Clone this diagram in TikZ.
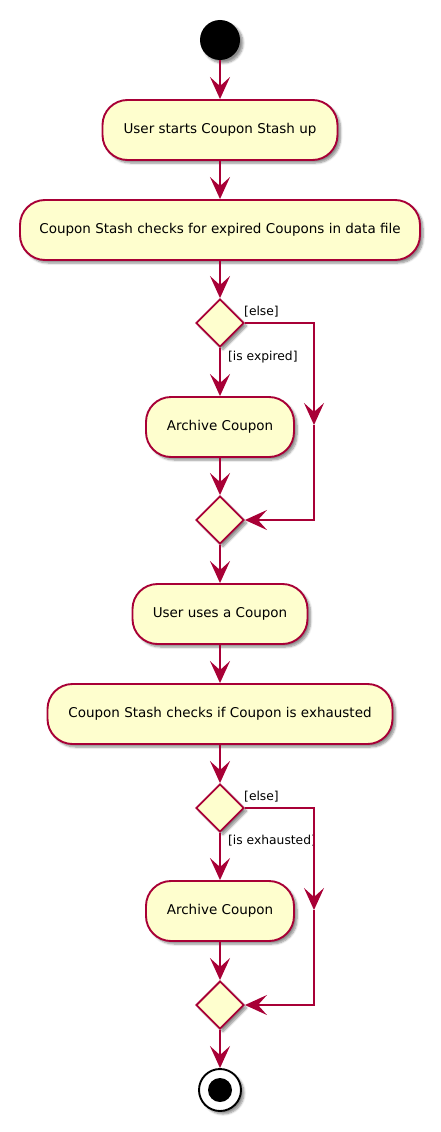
\documentclass[tikz,border=0pt]{standalone}
\usepackage{fontspec}
\setmainfont{DejaVu Sans}
\usetikzlibrary{arrows.meta,shapes.geometric,shadows.blur}
\definecolor{umlred}{HTML}{A80036}
\definecolor{umlfill}{HTML}{FEFECE}
\begin{document}
\begin{tikzpicture}[x=1pt,y=-1pt,
    shade/.style={blur shadow={shadow xshift=3pt,shadow yshift=-3pt,shadow blur steps=6,shadow opacity=45}},
    action/.style={rounded corners=25pt,draw=umlred,fill=umlfill,line width=1.9pt,minimum height=60pt,inner sep=0pt,font=\fontsize{13.5}{16}\selectfont,shade},
    decision/.style={diamond,aspect=1,draw=umlred,fill=umlfill,line width=1.9pt,minimum width=48pt,minimum height=48pt,inner sep=0pt,shade},
    flow/.style={draw=umlred,line width=1.9pt,-{Stealth[length=22pt,width=20pt,inset=9pt]}},
    guard/.style={font=\fontsize{12.3}{14}\selectfont,inner sep=0pt}]
      \useasboundingbox (0,0) rectangle (440,1132);%

      \node[circle,fill=black,inner sep=0pt,minimum size=40pt,shade] (S) at (220,40) {};%

      \node[action,minimum width=235pt] (A1) at (220,130) {User starts Coupon Stash up};%
      \node[action,minimum width=400pt] (A2) at (220,230) {Coupon Stash checks for expired Coupons in data file};%
      \node[decision] (D1) at (220,323) {};%
      \node[action,minimum width=148pt] (A3) at (220,427) {Archive Coupon};%
      \node[decision] (D2) at (220,520) {};%

      \node[action,minimum width=175pt] (A4) at (220,614) {User uses a Coupon};%
      \node[action,minimum width=345pt] (A5) at (220,714) {Coupon Stash checks if Coupon is exhausted};%
      \node[decision] (D3) at (220,808) {};%
      \node[action,minimum width=148pt] (A6) at (220,911) {Archive Coupon};%
      \node[decision] (D4) at (220,1005) {};%

      \node[circle,draw=black,fill=white,line width=1.9pt,inner sep=0pt,minimum size=42pt,shade] (E) at (220,1090) {};%
      \node[circle,fill=black,inner sep=0pt,minimum size=24pt] (EI) at (220,1090) {};%

      \coordinate (C1) at (314,323);%
      \coordinate (M1) at (314,425);%
      \coordinate (C2) at (314,520);%
      \coordinate (C3) at (314,808);%
      \coordinate (M3) at (314,910);%
      \coordinate (C4) at (314,1005);%

      \node[guard,anchor=west] (L1) at (244,312) {[else]};%
      \node[guard,anchor=west] (L2) at (228,357) {[is expired]};%
      \node[guard,anchor=west] (L3) at (244,797) {[else]};%
      \node[guard,anchor=west] (L4) at (228,841) {[is exhausted]};%

      \draw[flow] (S) -- (A1);%
      \draw[flow] (A1) -- (A2);%
      \draw[flow] (A2) -- (D1);%
      \draw[flow] (D1) -- (A3);%
      \draw[flow] (A3) -- (D2);%
      \draw[flow] (D1.east) -- (C1) -- (M1);%
      \draw[flow] (M1) -- (C2) -- (D2.east);%
      \draw[flow] (D2) -- (A4);%

      \draw[flow] (A4) -- (A5);%
      \draw[flow] (A5) -- (D3);%
      \draw[flow] (D3) -- (A6);%
      \draw[flow] (A6) -- (D4);%
      \draw[flow] (D3.east) -- (C3) -- (M3);%
      \draw[flow] (M3) -- (C4) -- (D4.east);%
      \draw[flow] (D4) -- (E);%
\end{tikzpicture}
\end{document}
